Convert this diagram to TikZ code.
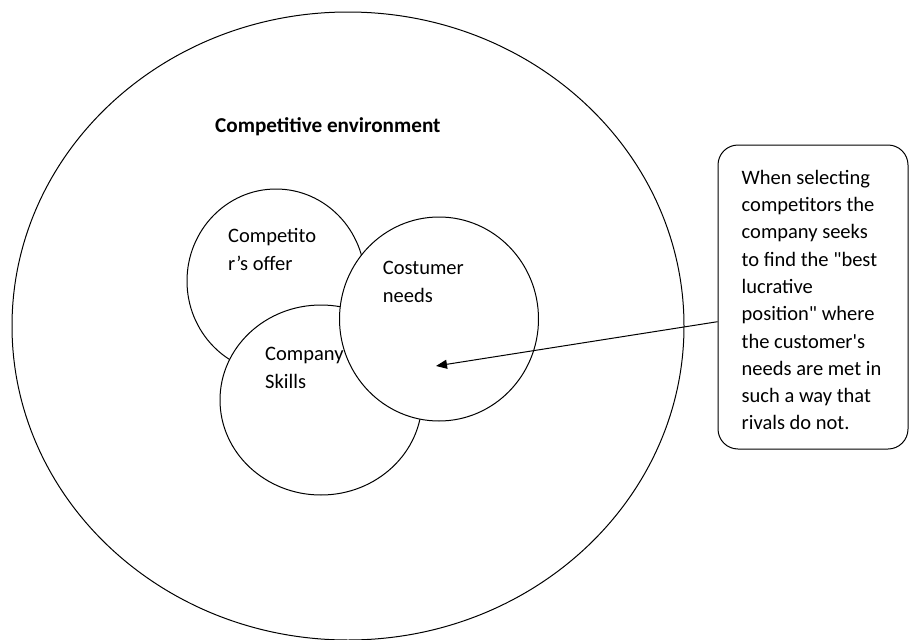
\documentclass[tikz,border=0pt]{standalone}
\usepackage{fontspec}
\setmainfont{Carlito}[Ligatures=TeXOff]
\usetikzlibrary{shapes.geometric,arrows.meta}
\begin{document}
\begin{tikzpicture}[x=1pt,y=-1pt,
  ring/.style={ellipse,draw=black,line width=1pt,fill=white,inner sep=0pt},
  lbl/.style={anchor=north west,align=left,inner sep=0pt,
    font=\fontsize{20.5}{28}\selectfont},
  callout/.style={rectangle,draw=black,line width=1pt,fill=white,
    rounded corners=20pt,minimum width=190pt,minimum height=304pt,inner sep=0pt},
  pointer/.style={line width=1pt,-{Triangle[length=11pt,width=9pt]}}]
\useasboundingbox (0,0) rectangle (911,640);
\fill[white] (0,0) rectangle (911,640);
% environment
\node[ring,minimum width=672pt,minimum height=628pt] (env) at (348,326) {};
\node[anchor=base west,inner sep=0pt,font=\fontsize{21.2}{28}\selectfont\bfseries]
  (envlbl) at (215,132.3) {Competitive environment};
% circles
\node[ring,minimum width=178pt,minimum height=184pt] (offer) at (276,281) {};
\node[ring,minimum width=202pt,minimum height=190pt] (skills) at (321,400) {};
\node[ring,minimum width=199pt,minimum height=204pt] (needs) at (439,319) {};
% labels
\node[lbl] (offerlbl) at (228,226.7) {\rule{0pt}{16pt}Competito\\r’s offer};
\node[lbl] (skillslbl) at (265,344) {\rule{0pt}{16pt}Company\\Skills};
\node[lbl] (needslbl) at (382.7,258.3) {\rule{0pt}{16pt}Costumer\\needs};
% callout
\node[callout] (box) at (813,297) {};
\node[anchor=north west,align=left,inner sep=0pt,
  font=\fontsize{20.5}{27.3}\selectfont] (boxtext) at (741.5,168)
  {\rule{0pt}{16pt}When selecting\\competitors the\\company seeks\\to find the "best\\lucrative\\position" where\\the customer's\\needs are met in\\such a way that\\rivals do not.};
\coordinate (tip) at (436,366);
\draw[pointer] ([yshift=-24.7pt]box.west) -- (tip);
\end{tikzpicture}
\end{document}
